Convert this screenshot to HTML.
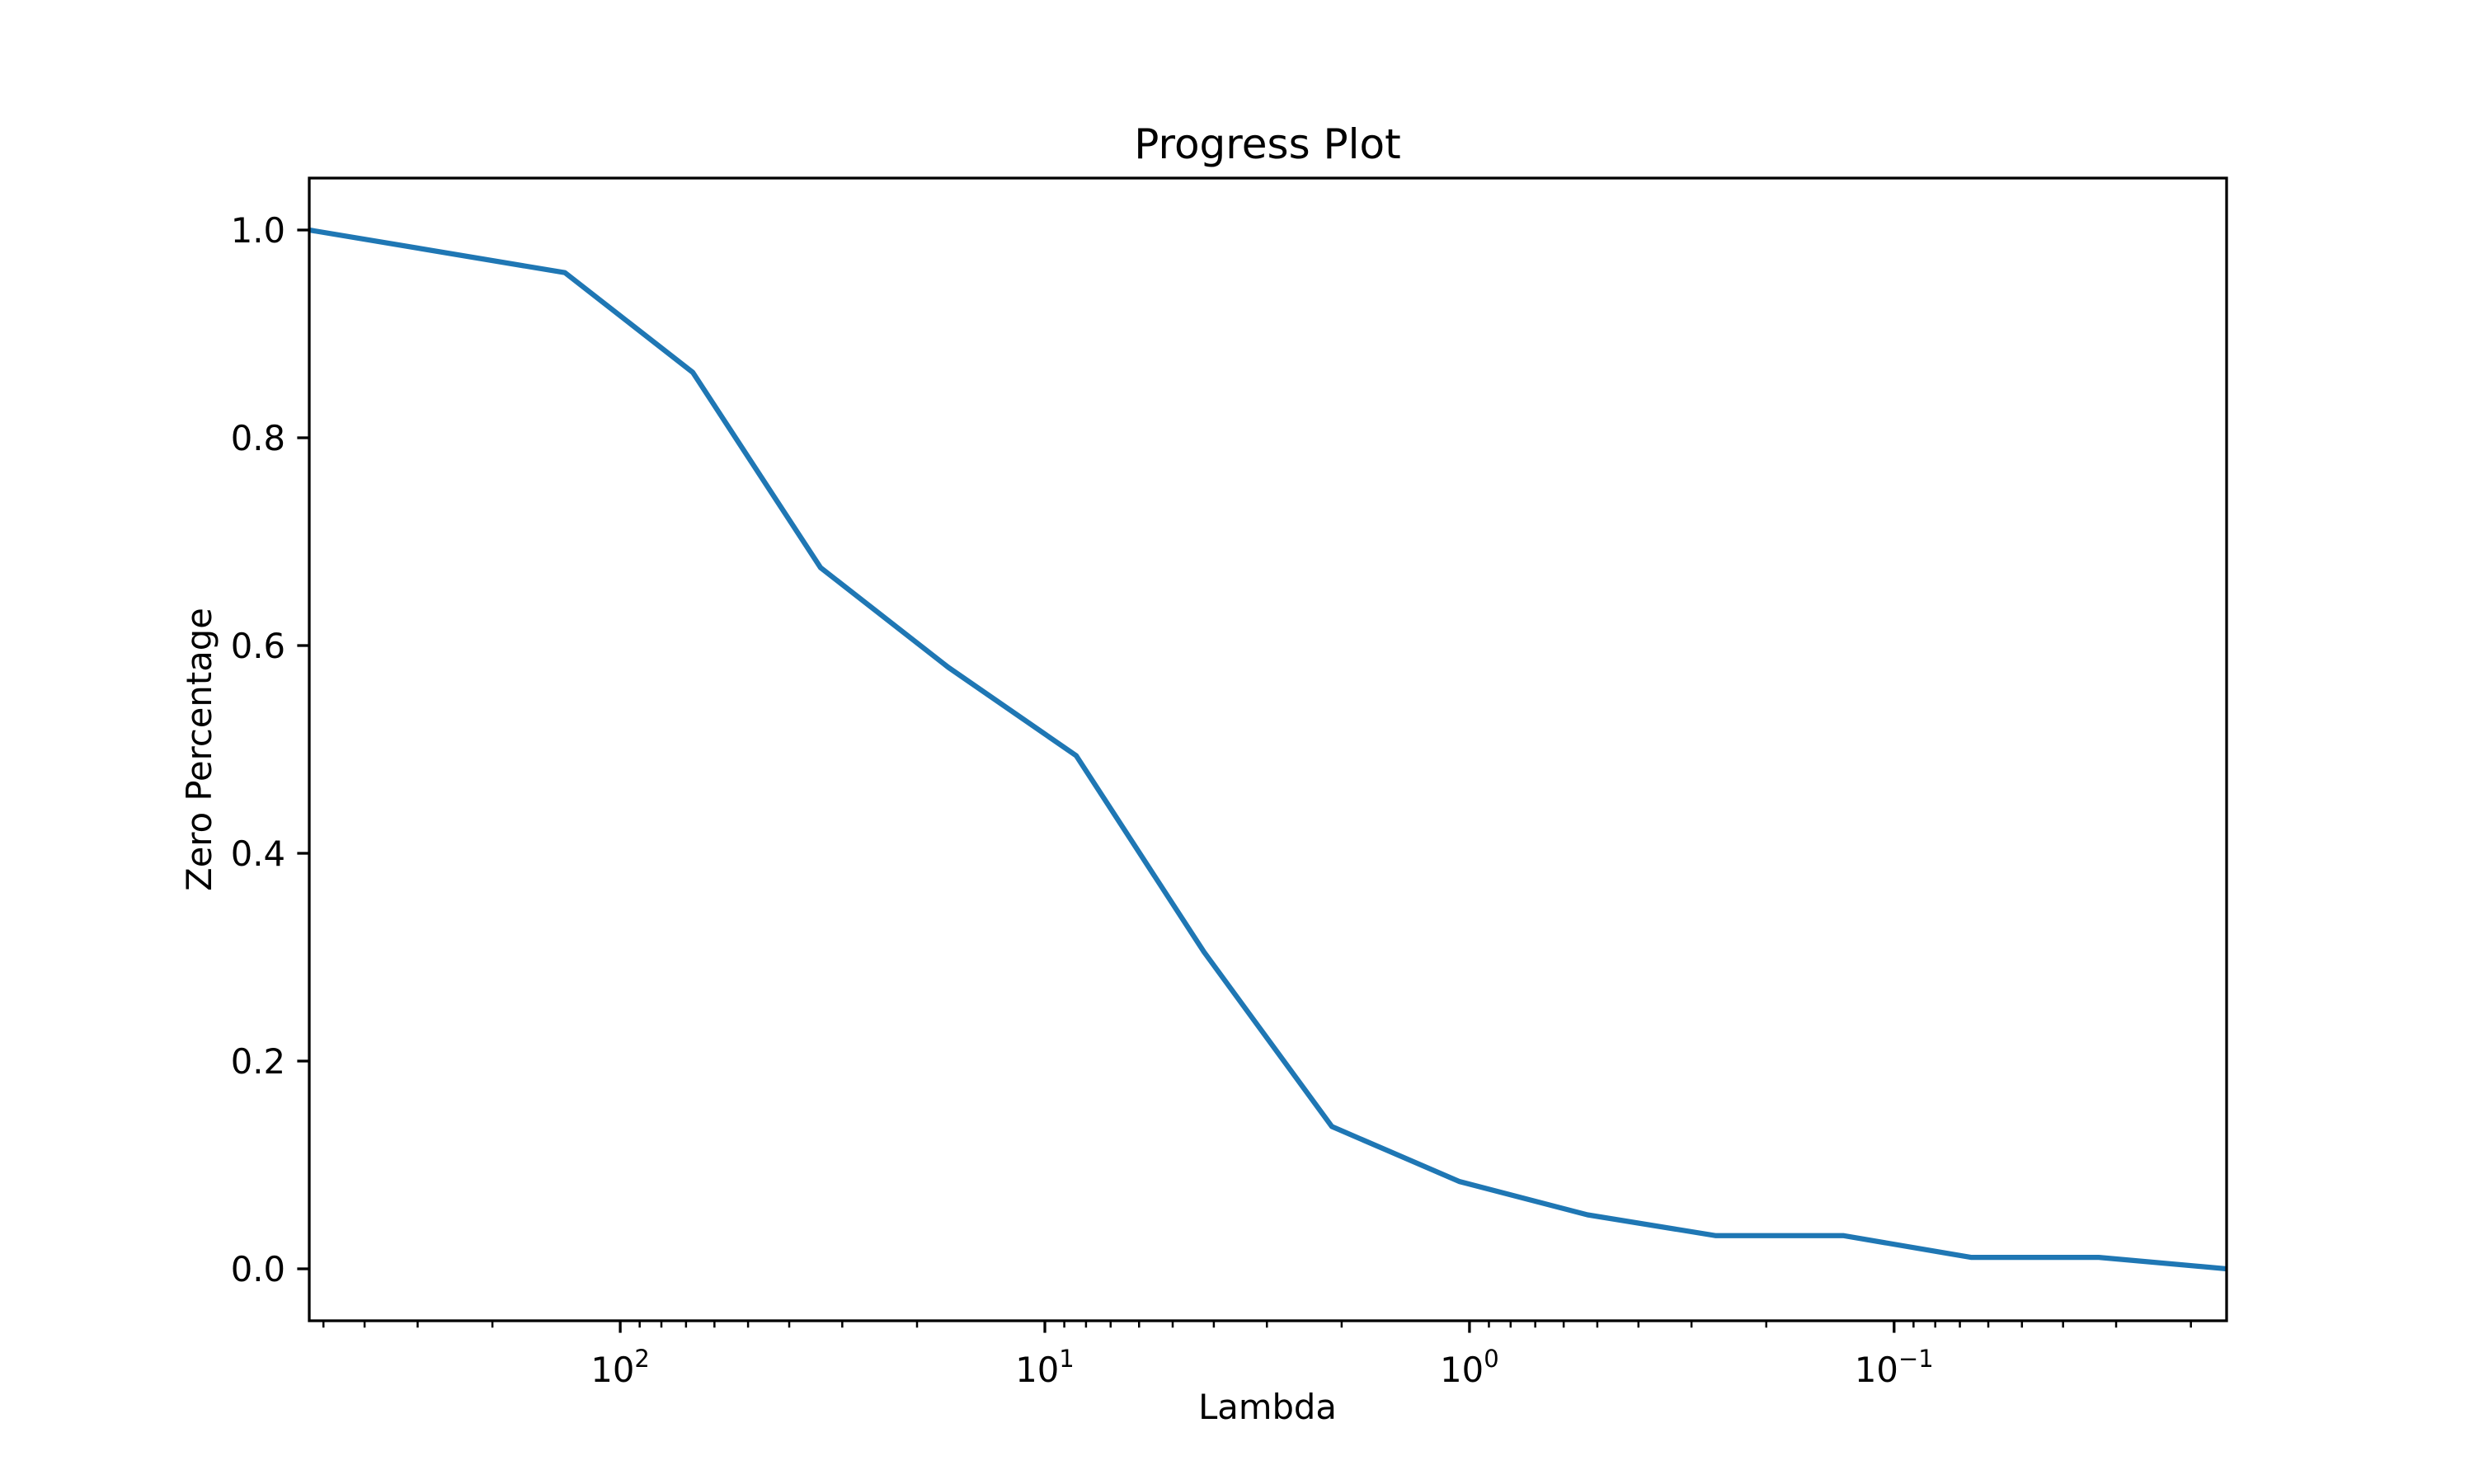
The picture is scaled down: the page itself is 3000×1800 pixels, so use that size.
<!DOCTYPE html>
<html><head><meta charset="utf-8"><style>
html,body{margin:0;padding:0;background:#fff;}
svg{display:block;font-family:"DejaVu Sans","Liberation Sans",sans-serif;}
</style></head><body>
<svg id="chart" width="3000" height="1800" viewBox="0 0 3000 1800" xmlns="http://www.w3.org/2000/svg">
<rect width="3000" height="1800" fill="#fff"/>
<text x="1537" y="192" font-size="50" text-anchor="middle">Progress Plot</text>
<text x="1537" y="1736" font-size="41.7" text-anchor="middle" transform="translate(0,-15)">Lambda</text>
<text transform="translate(256,909) rotate(-90)" font-size="41.7" text-anchor="middle">Zero Percentage</text>
<g id="plot"></g>
</svg>
<script>
const lambdas = [540, 135, 67.5, 33.75, 16.875, 8.4375, 4.21875, 2.109375, 1.0546875, 0.52734375, 0.263671875, 0.1318359375, 0.06591796875, 0.032958984375, 0.0164794921875];
const zeroPct = [1.0, 0.959, 0.863, 0.675, 0.579, 0.494, 0.305, 0.137, 0.084, 0.052, 0.032, 0.032, 0.011, 0.011, 0.0];
const yTicks = [0.0, 0.2, 0.4, 0.6, 0.8, 1.0];
const yTickLabels = ["0.0", "0.2", "0.4", "0.6", "0.8", "1.0"];
const xDecades = [2, 1, 0, -1];

const L = 375, R = 2700, T = 216, B = 1602;
const xMaxLog = Math.log10(Math.max(...lambdas)), xMinLog = Math.log10(Math.min(...lambdas));
const yMin = -0.05, yMax = 1.05;
function xs(v){ return L + (xMaxLog - Math.log10(v)) / (xMaxLog - xMinLog) * (R - L); }
function ys(v){ return B - (v - yMin) / (yMax - yMin) * (B - T); }
const NS = "http://www.w3.org/2000/svg";
const g = document.getElementById('plot');
function mk(tag, attrs){ const e = document.createElementNS(NS, tag); for (const k in attrs) e.setAttribute(k, attrs[k]); g.appendChild(e); return e; }

yTicks.forEach((v, i) => {
  const y = ys(v);
  const t = mk('line', {x1: L - 14.6, x2: L, y1: y, y2: y, stroke: '#000', 'stroke-width': 3.3});
  
  
  const lb = mk('text', {x: L - 29, y: y + 15, 'font-size': 41.7, 'text-anchor': 'end'});
  lb.textContent = yTickLabels[i];
  
  
});

for (let d = Math.floor(xMinLog); d <= Math.ceil(xMaxLog); d++) {
  for (let m = 1; m <= 9; m++) {
    const v = m * Math.pow(10, d);
    const lv = Math.log10(v);
    if (lv > xMaxLog + 1e-9 || lv < xMinLog - 1e-9) continue;
    const x = xs(v);
    const major = m === 1;
    const t = mk('line', {x1: x, x2: x, y1: B, y2: B + (major ? 14.6 : 8.3), stroke: '#000', 'stroke-width': major ? 3.3 : 2.5});
    
    
  }
}
xDecades.forEach(d => {
  const x = xs(Math.pow(10, d));
  const lb = mk('text', {x: x, y: 1676, 'font-size': 41.7, 'text-anchor': 'middle'});
  const a = document.createElementNS(NS, 'tspan'); a.textContent = '10'; lb.appendChild(a);
  const b = document.createElementNS(NS, 'tspan'); b.setAttribute('font-size', '29'); b.setAttribute('dy', '-18'); b.textContent = d < 0 ? '\u2212' + (-d) : String(d); lb.appendChild(b);
  
  
});

const pts = lambdas.map((v, i) => xs(v).toFixed(1) + ',' + ys(zeroPct[i]).toFixed(1)).join(' ');
const clip = mk('clipPath', {id: 'clipA'});
const cr = document.createElementNS(NS, 'rect'); cr.setAttribute('x', L); cr.setAttribute('y', T); cr.setAttribute('width', R - L); cr.setAttribute('height', B - T); clip.appendChild(cr);
const pl = mk('polyline', {points: pts, fill: 'none', stroke: '#1f77b4', 'stroke-width': 6.25, 'stroke-linejoin': 'round', 'stroke-linecap': 'square', 'clip-path': 'url(#clipA)'});



const fr = mk('rect', {x: L, y: T, width: R - L, height: B - T, fill: 'none', stroke: '#000', 'stroke-width': 3.3});


</script>
</body></html>
